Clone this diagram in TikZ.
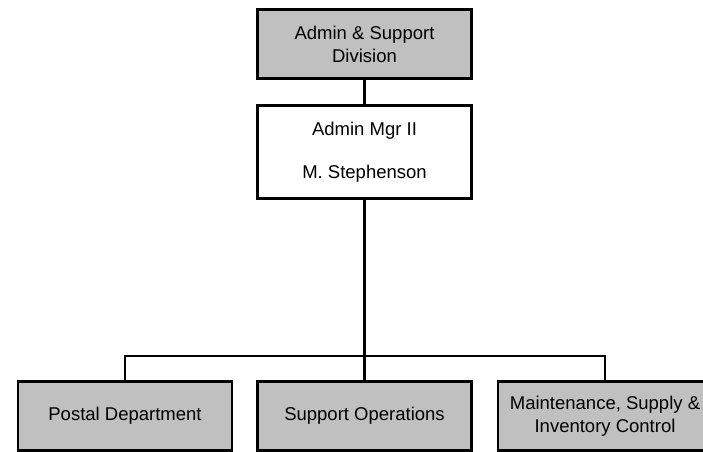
\documentclass[tikz,border=0pt]{standalone}
\usepackage{fontspec}
\setmainfont{Liberation Sans}
\begin{document}
\begin{tikzpicture}[x=1pt,y=1pt,
  box/.style={draw=black, line width=2.6pt, minimum width=214pt, inner sep=0pt, align=center,
    font=\fontsize{18.5pt}{23pt}\selectfont},
  graybox/.style={box, fill=boxgray, minimum height=69.4pt},
  link/.style={draw=black, line width=2.6pt}]
\definecolor{boxgray}{HTML}{C0C0C0}
\useasboundingbox (0,0) rectangle (703,451);
\node[graybox] (div) at (364.5,407) {Admin \& Support\\Division};
\node[box, fill=white, minimum height=93.4pt] (mgr) at (364.5,299) {Admin Mgr II\\[20pt]M. Stephenson};
\node[graybox] (postal) at (125,35) {Postal Department};
\node[graybox] (support) at (364.5,35) {Support Operations};
\node[graybox] (maint) at (605,35) {Maintenance, Supply \&\\Inventory Control};
\coordinate (bar) at (364.5,95);
\draw[link] (div.south) -- (mgr.north);
\draw[link] (mgr.south) -- (bar) -- (support.north);
\draw[link, line join=miter] (postal.north) |- (bar) -| (maint.north);
\end{tikzpicture}
\end{document}
